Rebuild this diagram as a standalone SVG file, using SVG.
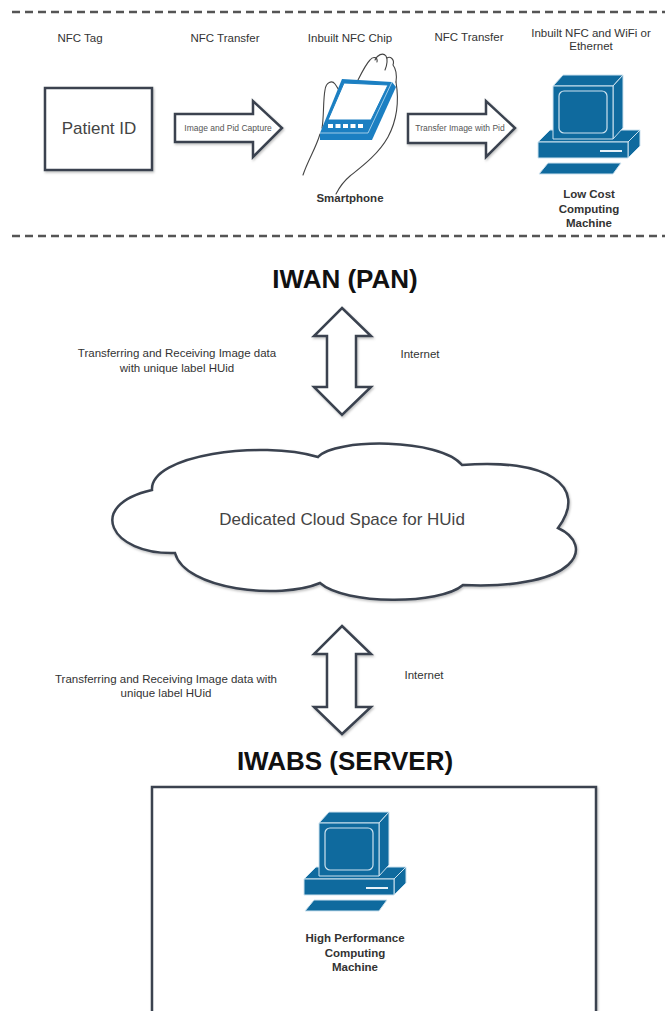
<svg xmlns="http://www.w3.org/2000/svg" xmlns:xlink="http://www.w3.org/1999/xlink" width="665" height="1011" viewBox="0 0 665 1011">
  <style>
    .lbl { font-family: "Liberation Sans", Arial, sans-serif; font-size: 11.5px; fill: #333; text-anchor: middle; }
    .bold { font-weight: bold; }
    .small { font-family: "Liberation Sans", Arial, sans-serif; font-size: 8.5px; fill: #555; text-anchor: middle; }
    .title { font-family: "Liberation Sans", Arial, sans-serif; font-size: 26px; font-weight: bold; fill: #111; text-anchor: middle; }
    .big { font-family: "Liberation Sans", Arial, sans-serif; font-size: 17px; fill: #444; text-anchor: middle; }
    .outline { fill: #fff; stroke: #3a4350; stroke-width: 2.5; stroke-linejoin: miter; filter: url(#shadow); }
    .divider { stroke: #555; stroke-width: 2.5; stroke-dasharray: 8 5; fill: none; }
    .hand { fill: none; stroke: #444; stroke-width: 1.1; stroke-linecap: round; }
    .pc { fill: #0f6a9e; stroke: #cde2ef; stroke-width: 1; stroke-linejoin: round; }
  </style>
  <defs>
    <filter id="shadow" x="-10%" y="-10%" width="120%" height="130%">
      <feDropShadow dx="1" dy="1.5" stdDeviation="1" flood-color="#000" flood-opacity="0.25"/>
    </filter>
    <!-- desktop computer icon, origin at the monitor's front top-left corner -->
    <g id="computer">
      <polygon class="pc" points="-5,77 68,77 60,88 -14,88"/>
      <polygon class="pc" points="-15,56 -3,44 87,44 75,56"/>
      <polygon class="pc" points="75,56 87,44 87,60 75,72"/>
      <rect class="pc" x="-15" y="56" width="90" height="16"/>
      <line x1="47" y1="65" x2="69" y2="65" stroke="#e6f1f8" stroke-width="2"/>
      <polygon class="pc" points="0,0 10,-11 70,-11 60,0"/>
      <polygon class="pc" points="60,0 70,-11 70,42 60,53"/>
      <rect class="pc" x="0" y="0" width="60" height="53"/>
      <rect x="6" y="5" width="48" height="42" rx="5" fill="none" stroke="#cde2ef" stroke-width="1.2"/>
    </g>
  </defs>

  <rect width="665" height="1011" fill="#fff"/>

  <!-- section dividers -->
  <line class="divider" x1="12" y1="12" x2="665" y2="12"/>
  <line class="divider" x1="12" y1="236" x2="665" y2="236"/>

  <!-- column headings -->
  <g id="headings">
    <text class="lbl" x="80" y="42">NFC Tag</text>
    <text class="lbl" x="225" y="42">NFC Transfer</text>
    <text class="lbl" x="350" y="42">Inbuilt NFC Chip</text>
    <text class="lbl" x="469" y="41">NFC Transfer</text>
    <text class="lbl" x="591" y="37">Inbuilt NFC and WiFi or</text>
    <text class="lbl" x="591" y="50">Ethernet</text>
  </g>

  <!-- patient tag -->
  <g id="patient-id">
    <rect class="outline" x="45" y="88" width="107" height="82"/>
    <text class="big" x="99" y="134">Patient ID</text>
  </g>

  <!-- smartphone in hand -->
  <g id="smartphone">
    <path class="hand" d="M303,175 C308,160 316,148 320,134"/>
    <path class="hand" d="M322,128 C324,118 323,100 325,90 C326,82 332,80 335,84 C338,88 340,93 344,97"/>
    <path class="hand" d="M358,80 C362,72 366,64 370,60 C373,56 378,57 377,62"/>
    <path class="hand" d="M375,60 C377,55 383,52 386,56 C388,60 387,65 385,70"/>
    <path class="hand" d="M387,58 C390,56 395,59 393,65 C396,69 397,75 396,82"/>
    <path class="hand" d="M396,82 C399,100 397,120 388,137 C378,155 360,168 350,176 C344,181 340,186 336,194"/>
    <polygon points="342,79 392,82 396,87 372,140 320,140 320,133" fill="#1b7fc2"/>
    <polyline points="320,133 368,133 392,82" fill="none" stroke="#bfe0f3" stroke-width="0.8"/>
    <polygon points="344,83 388,85 371,120 328,120" fill="#fff" stroke="#1b7fc2" stroke-width="1"/>
    <g fill="#fff">
      <rect x="328" y="124" width="5" height="4"/>
      <rect x="335.5" y="124" width="5" height="4"/>
      <rect x="343" y="124" width="5" height="4"/>
      <rect x="350.5" y="124" width="5" height="4"/>
      <rect x="358" y="124" width="5" height="4"/>
    </g>
    <text class="lbl bold" x="350" y="202">Smartphone</text>
  </g>

  <!-- low cost computer -->
  <g id="low-cost-computer">
    <use xlink:href="#computer" x="553" y="86"/>
    <text class="lbl bold" x="589" y="198">Low Cost</text>
    <text class="lbl bold" x="589" y="213">Computing</text>
    <text class="lbl bold" x="589" y="227">Machine</text>
  </g>

  <g id="iwan-title">
    <text class="title" x="345" y="288">IWAN (PAN)</text>
  </g>

  <!-- shared cloud storage -->
  <g id="cloud">
    <path class="outline" d="M152,490 C150,455 260,440 318,457 C335,438 440,438 462,465 C545,458 590,485 558,528 C595,545 580,590 463,585 C440,605 345,605 320,583 C280,600 185,590 175,553 C110,555 85,505 152,490 Z"/>
    <text class="big" x="342" y="525">Dedicated Cloud Space for HUid</text>
  </g>

  <g id="iwabs-title">
    <text class="title" x="345" y="770">IWABS (SERVER)</text>
  </g>

  <!-- server enclosure -->
  <g id="server">
    <rect class="outline" x="152" y="787" width="444" height="240"/>
    <use xlink:href="#computer" x="319" y="823"/>
    <text class="lbl bold" x="355" y="942">High Performance</text>
    <text class="lbl bold" x="355" y="957">Computing</text>
    <text class="lbl bold" x="355" y="971">Machine</text>
  </g>

  <!-- connectors -->
  <g id="connectors">
    <path class="outline" d="M175,114 L253,114 L253,101 L282,128 L253,157 L253,142 L175,142 Z"/>
    <text class="small" x="228" y="131">Image and Pid Capture</text>

    <path class="outline" d="M408,114 L486,114 L486,101 L515,128 L486,157 L486,143 L408,143 Z"/>
    <text class="small" x="460" y="131">Transfer Image with Pid</text>

    <path class="outline" d="M342,308 L371,336 L356,336 L356,387 L371,387 L342,415 L314,387 L327,387 L327,336 L314,336 Z"/>
    <text class="lbl" x="177" y="357">Transferring and Receiving Image data</text>
    <text class="lbl" x="177" y="372">with unique label HUid</text>
    <text class="lbl" x="420" y="358">Internet</text>

    <path class="outline" d="M342,626 L371,654 L356,654 L356,707 L371,707 L342,734 L314,707 L327,707 L327,654 L314,654 Z"/>
    <text class="lbl" x="166" y="683">Transferring and Receiving Image data with</text>
    <text class="lbl" x="166" y="697">unique label HUid</text>
    <text class="lbl" x="424" y="679">Internet</text>
  </g>
</svg>
